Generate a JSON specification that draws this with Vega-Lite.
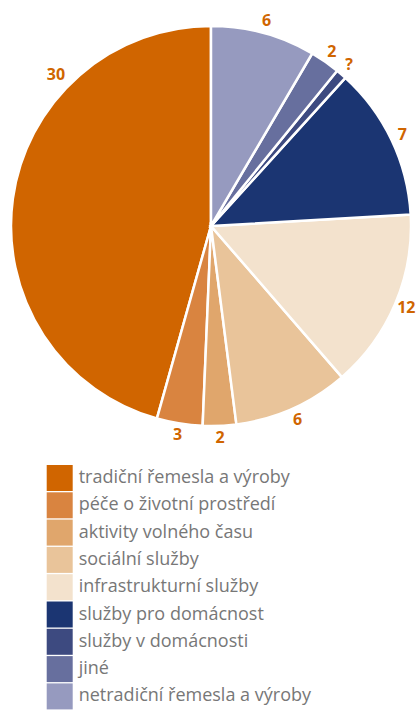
{
  "$schema": "https://vega.github.io/schema/vega-lite/v6.json",
  "width": 412,
  "height": 452,
  "autosize": {"type": "none"},
  "padding": {"left": 5, "top": 0, "right": 0, "bottom": 259},
  "background": "white",
  "config": {"view": {"stroke": null}},
  "data": {
    "values": [
      {"k": "tradiční řemesla a výroby", "share": 164.3, "label": "30", "o": 9},
      {"k": "péče o životní prostředí", "share": 13.3, "label": "3", "o": 8},
      {"k": "aktivity volného času", "share": 9.7, "label": "2", "o": 7},
      {"k": "sociální služby", "share": 33.6, "label": "6", "o": 6},
      {"k": "infrastrukturní služby", "share": 52.4, "label": "12", "o": 5},
      {"k": "služby pro domácnost", "share": 44.5, "label": "7", "o": 4},
      {"k": "služby v domácnosti", "share": 3.1, "label": "?", "o": 3},
      {"k": "jiné", "share": 8.7, "label": "2", "o": 2},
      {"k": "netradiční řemesla a výroby", "share": 30.4, "label": "6", "o": 1}
    ]
  },
  "encoding": {
    "theta": {"field": "share", "type": "quantitative", "stack": true},
    "order": {"field": "o", "type": "quantitative", "sort": "ascending"}
  },
  "layer": [
    {
      "mark": {"type": "arc", "outerRadius": 200, "stroke": "white", "strokeWidth": 2.5},
      "encoding": {
        "color": {
          "field": "k",
          "type": "nominal",
          "scale": {
            "domain": ["tradiční řemesla a výroby", "péče o životní prostředí", "aktivity volného času", "sociální služby", "infrastrukturní služby", "služby pro domácnost", "služby v domácnosti", "jiné", "netradiční řemesla a výroby"],
            "range": ["#D06500", "#D98440", "#E0A66C", "#E9C49A", "#F3E2CD", "#1B3572", "#3D4A80", "#676F9E", "#969ABF"]
          },
          "legend": {
            "title": null,
            "orient": "none",
            "legendX": 41.7,
            "legendY": 465,
            "padding": 0,
            "symbolType": "square",
            "symbolSize": 676,
            "symbolStrokeWidth": 0,
            "symbolOpacity": 1,
            "rowPadding": 1.3,
            "labelFont": "Open Sans",
            "labelFontSize": 18,
            "labelColor": "#777777",
            "labelOffset": 6,
            "labelLimit": 400
          }
        }
      }
    },
    {
      "mark": {"type": "text", "radius": 212, "font": "Open Sans", "fontSize": 16, "fontWeight": "bold", "color": "#D06500"},
      "encoding": {
        "text": {"condition": {"test": "datum.o === 9", "value": ""}, "field": "label"}
      }
    },
    {
      "mark": {"type": "text", "radius": 212, "dx": 55, "dy": -122, "font": "Open Sans", "fontSize": 16, "fontWeight": "bold", "color": "#D06500"},
      "encoding": {
        "text": {"condition": {"test": "datum.o !== 9", "value": ""}, "field": "label"}
      }
    }
  ]
}
